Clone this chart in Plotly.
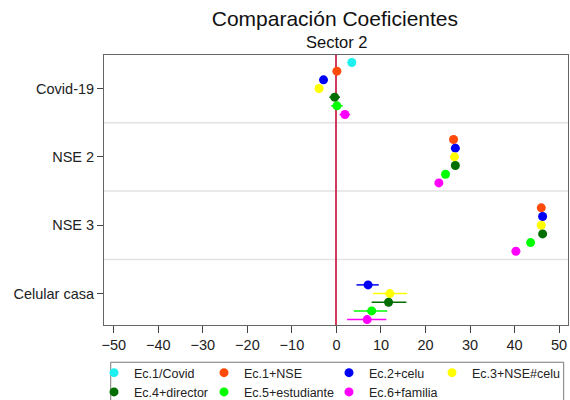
import plotly.graph_objects as go

# Coefficient comparison across model specifications (Sector 2)
categories = ["Covid-19", "NSE 2", "NSE 3", "Celular casa"]
models = ["Ec.1/Covid", "Ec.1+NSE", "Ec.2+celu", "Ec.3+NSE#celu",
          "Ec.4+director", "Ec.5+estudiante", "Ec.6+familia"]
colors = ["#1EF0F0", "#FF4A0A", "#0000F5", "#FFFF00",
          "#006E00", "#00FF00", "#FF00FF"]

# Point estimates per covariate, one value per model (None = not in model)
covid_coef = [3.45, 0.1, -2.9, -3.9, -0.4, 0.1, 1.9]
nse2_coef = [None, 26.3, 26.7, 26.5, 26.7, 24.5, 23.0]
nse3_coef = [None, 46.0, 46.3, 46.0, 46.3, 43.6, 40.3]
celular_coef = [None, None, 7.1, 12.0, 11.7, 7.9, 6.9]

# Confidence interval bounds
covid_lo = [2.9, -0.4, -3.4, -4.4, -1.6, -1.2, 0.7]
covid_hi = [4.0, 0.6, -2.4, -3.4, 0.8, 1.4, 3.1]
nse2_lo = [None, 25.6, 26.0, 25.8, 26.0, 23.8, 22.3]
nse2_hi = [None, 27.0, 27.4, 27.2, 27.4, 25.2, 23.7]
nse3_lo = [None, 45.2, 45.5, 45.2, 45.5, 42.8, 39.5]
nse3_hi = [None, 46.8, 47.1, 46.8, 47.1, 44.4, 41.1]
celular_lo = [None, None, 4.5, 8.2, 7.9, 3.9, 2.4]
celular_hi = [None, None, 9.5, 15.9, 15.7, 11.4, 11.2]

# Legend column each model is listed in
legend_ids = ["legend", "legend2", "legend3", "legend4",
              "legend", "legend2", "legend3"]

coefs = [covid_coef, nse2_coef, nse3_coef, celular_coef]
los = [covid_lo, nse2_lo, nse3_lo, celular_lo]
his = [covid_hi, nse2_hi, nse3_hi, celular_hi]

step = 0.127
fig = go.Figure()
for k, name in enumerate(models):
    xs, ys, plus, minus = [], [], [], []
    for i in range(len(categories)):
        v = coefs[i][k]
        if v is None:
            continue
        xs.append(v)
        ys.append(i + (k - 3) * step)
        plus.append(his[i][k] - v)
        minus.append(v - los[i][k])
    fig.add_trace(go.Scatter(
        x=xs, y=ys, mode="markers", name=name, legend=legend_ids[k],
        marker=dict(color=colors[k], size=9, line=dict(width=0)),
        error_x=dict(type="data", symmetric=False, array=plus,
                     arrayminus=minus, color=colors[k], thickness=1.5,
                     width=0),
    ))

# Light separators between covariate blocks
for b in [0.5, 1.5, 2.5]:
    fig.add_shape(type="line", xref="paper", yref="y", x0=0, x1=1,
                  y0=b, y1=b, line=dict(color="#E2E2E2", width=1.5),
                  layer="below")

# Legend frame
fig.add_shape(type="rect", xref="paper", yref="paper",
              x0=0.0145, x1=0.9907, y0=-0.138, y1=-0.5,
              line=dict(color="#7A7A7A", width=1), fillcolor="rgba(0,0,0,0)")

legend_font = dict(family="Liberation Sans, Arial, sans-serif", size=12.5,
                   color="#222222")
leg_common = dict(orientation="v", yanchor="top", xanchor="left",
                  xref="container", yref="container",
                  y=1 - 358 / 400, bgcolor="rgba(0,0,0,0)", borderwidth=0,
                  font=legend_font, tracegroupgap=0)

fig.update_layout(
    width=570, height=400,
    margin=dict(l=104, r=2, t=55, b=75, autoexpand=False),
    paper_bgcolor="white", plot_bgcolor="white",
    font=dict(family="Liberation Sans, Arial, sans-serif", color="#222222"),
    title=dict(text="Comparación Coeficientes", x=0.5875, xanchor="center",
               y=1 - 19 / 400, yanchor="middle",
               font=dict(size=21, color="#111111")),
    annotations=[dict(text="Sector 2", xref="paper", yref="paper",
                      x=0.5, y=(325 - 42) / 270, xanchor="center",
                      yanchor="middle", showarrow=False,
                      font=dict(size=16.5, color="#111111"))],
    xaxis=dict(range=[-52.2, 52.0], tickvals=list(range(-50, 51, 10)),
               ticks="outside", ticklen=7, tickcolor="#444444",
               tickfont=dict(size=14.5, color="#222222"),
               showgrid=False, zeroline=True, zerolinecolor="#D03A5C",
               zerolinewidth=2, showline=True, linecolor="#666666",
               linewidth=1, mirror=True),
    yaxis=dict(range=[3.46, -0.49], tickvals=[0, 1, 2, 3],
               ticktext=categories, ticks="outside", ticklen=6,
               tickcolor="#444444", tickfont=dict(size=14.5, color="#222222"),
               showgrid=False, zeroline=False, showline=True,
               linecolor="#666666", linewidth=1, mirror=True),
    legend=dict(x=94 / 570, **leg_common),
    legend2=dict(x=204 / 570, **leg_common),
    legend3=dict(x=329 / 570, **leg_common),
    legend4=dict(x=432 / 570, **leg_common),
)

fig.write_html("out.html")
